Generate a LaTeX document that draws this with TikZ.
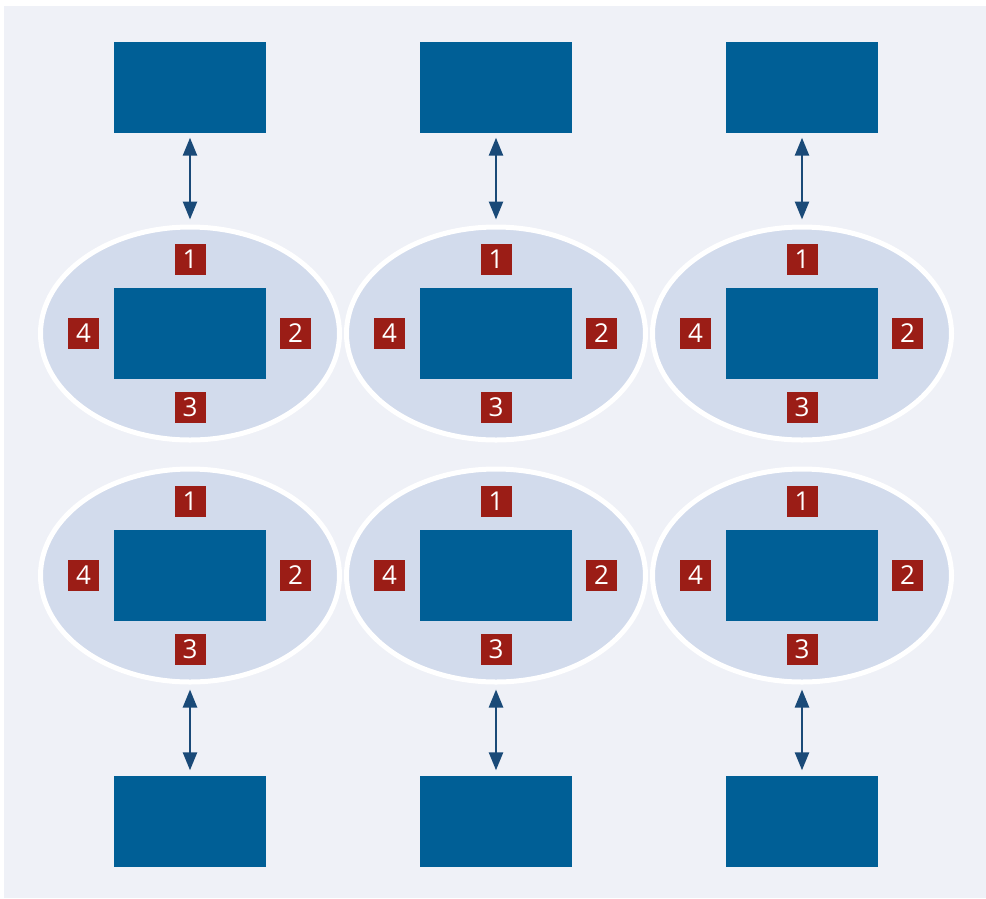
\documentclass[tikz,border=0pt]{standalone}
\usepackage{fontspec}
\setmainfont{Open Sans}
\usetikzlibrary{shapes.geometric}
\usetikzlibrary{arrows.meta}

\definecolor{bgcol}{HTML}{EFF1F7}
\definecolor{zonefill}{HTML}{D2DBEC}
\definecolor{boxblue}{HTML}{005F96}
\definecolor{portred}{HTML}{9B1D16}
\definecolor{linkblue}{HTML}{1A4A78}

\begin{document}
\begin{tikzpicture}[x=1pt, y=-1pt,
    unit box/.style={rectangle, fill=boxblue, minimum width=152pt, minimum height=91pt, inner sep=0pt},
    zone/.style={ellipse, fill=zonefill, draw=white, line width=5pt, minimum width=299pt, minimum height=213pt},
    port/.style={rectangle, fill=portred, text=white, minimum size=31pt, inner sep=0pt, font=\fontsize{26}{26}\selectfont},
    link/.style={draw=linkblue, line width=2.5pt, {Triangle[length=18pt,width=14pt]}-{Triangle[length=18pt,width=14pt]}, shorten <=5pt, shorten >=5pt},
    ]
  \useasboundingbox (0,0) rectangle (986,898);
  \fill[bgcol] (4,6) rectangle (986,898);

  \foreach \i/\x in {1/190, 2/496, 3/802} {
    % upper row
    \node[unit box] (top\i) at (\x, 87) {};
    \node[zone] (up\i) at (\x, 333.5) {};
    \node[unit box] (upbox\i) at (up\i) {};
    \path (up\i) ++(0,-74)    node[port] (upn\i) {1};
    \path (up\i) ++(105.5,0)  node[port] (upe\i) {2};
    \path (up\i) ++(0,74)     node[port] (ups\i) {3};
    \path (up\i) ++(-106.5,0) node[port] (upw\i) {4};

    % lower row
    \node[zone] (lo\i) at (\x, 575.5) {};
    \node[unit box] (lobox\i) at (lo\i) {};
    \path (lo\i) ++(0,-74)    node[port] (lon\i) {1};
    \path (lo\i) ++(105.5,0)  node[port] (loe\i) {2};
    \path (lo\i) ++(0,74)     node[port] (los\i) {3};
    \path (lo\i) ++(-106.5,0) node[port] (low\i) {4};
    \node[unit box] (bot\i) at (\x, 821) {};

    \draw[link] (top\i) -- (up\i);
    \draw[link] (lo\i) -- (bot\i);
  }
\end{tikzpicture}
\end{document}
